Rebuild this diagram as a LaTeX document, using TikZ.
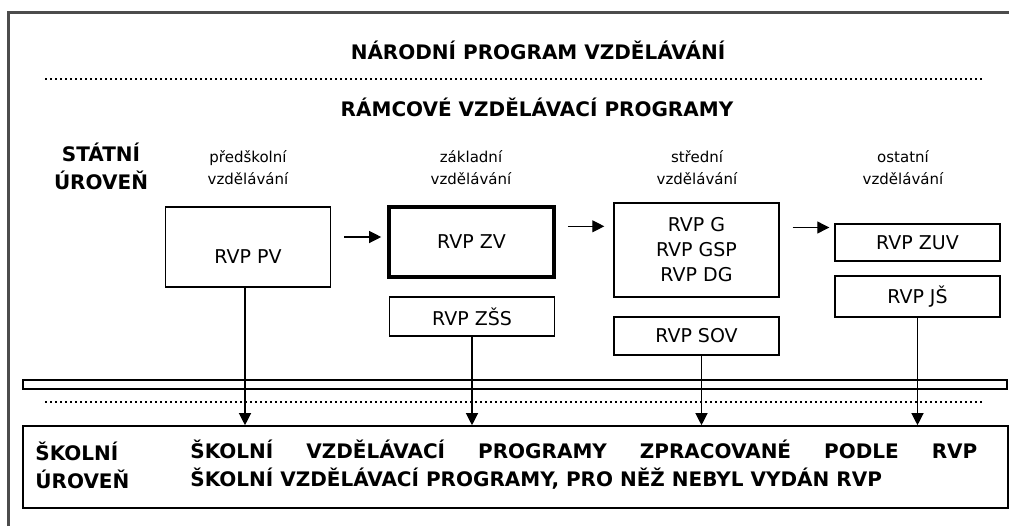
\documentclass[tikz,border=0pt]{standalone}
\usepackage{fontspec}
\setmainfont{DejaVu Sans}
\usetikzlibrary{arrows.meta,calc}

\begin{document}
\begin{tikzpicture}[x=0.5pt,y=-0.5pt,
  rvp/.style={draw,line width=0.7pt,minimum width=82.5pt,inner sep=1pt,align=center,font=\fontsize{9.5}{12.5}\selectfont},
  stage/.style={align=center,inner sep=0pt,font=\fontsize{7.5}{11}\selectfont},
  head/.style={anchor=base,inner sep=0pt,font=\bfseries\fontsize{10}{12}\selectfont},
  level/.style={align=left,inner sep=0pt,font=\bfseries\fontsize{10}{14}\selectfont},
  frame/.style={draw,line width=0.8pt,inner sep=0pt},
  arr/.style={-{Triangle[length=6pt,width=6pt]},line width=0.6pt},
  sep/.style={line width=1pt,dash pattern=on 1pt off 1.5pt}
]
\useasboundingbox (0,0) rectangle (1009,526);
\draw[line width=1.5pt,black!70] (8,526) -- (8,12) -- (1009,12);

\node[head] (nat) at (538,59) {NÁRODNÍ PROGRAM VZDĚLÁVÁNÍ};
\draw[sep] (45,79) -- (983,79);
\node[head] (ramc) at (537,116) {RÁMCOVÉ VZDĚLÁVACÍ PROGRAMY};

\node[level,align=center] (stat) at (101,166) {STÁTNÍ\\ÚROVEŇ};
\node[stage] (lpv) at (248,168) {předškolní\\vzdělávání};
\node[stage] (lzv) at (471,168) {základní\\vzdělávání};
\node[stage] (lsv) at (697,168) {střední\\vzdělávání};
\node[stage] (lov) at (903,168) {ostatní\\vzdělávání};

\node[rvp,minimum height=40pt,text height=16pt] (pv) at (248,247) {RVP PV};
\node[rvp,minimum height=35pt,line width=1.8pt] (zv) at (471.5,242) {RVP ZV};
\node[rvp,minimum height=19.5pt] (zss) at (472,316.5) {RVP ZŠS};
\node[rvp,minimum height=47pt] (g) at (696.5,250) {RVP G\\RVP GSP\\RVP DG};
\node[rvp,minimum height=19pt] (sov) at (696.5,336) {RVP SOV};
\node[rvp,minimum height=18.5pt] (zuv) at (917.5,242.5) {RVP ZUV};
\node[rvp,minimum height=20.5pt] (js) at (917.5,296.5) {RVP JŠ};

\draw[arr] ($(pv.east |- zv.west)+(6.5pt,2.5pt)$) -- ($(zv.west)+(-3pt,2.5pt)$);
\draw[arr] ($(zv.east |- g.north)+(6pt,-12pt)$) -- ($(g.north west)+(-4.5pt,-12pt)$);
\draw[arr] ($(g.east |- zuv.west)+(6.5pt,7.5pt)$) -- ($(zuv.west)+(-2.5pt,7.5pt)$);

\node[frame,minimum width=492pt,minimum height=4.5pt] (bar) at (515,384.5) {};
\draw[sep] (45,402) -- (982,402);
\node[frame,minimum width=492.5pt,minimum height=41pt] (school) at (515.5,467) {};
\node[level,anchor=west] (skol) at (35,465) {ŠKOLNÍ\\ÚROVEŇ};
\node[level,anchor=west] (svp) at (190,465) {\makebox[393.5pt][s]{ŠKOLNÍ VZDĚLÁVACÍ PROGRAMY ZPRACOVANÉ PODLE RVP}\\ŠKOLNÍ VZDĚLÁVACÍ PROGRAMY, PRO NĚŽ NEBYL VYDÁN RVP};

\draw[arr] ($(pv.south)+(-1.5pt,0)$) -- ($(pv.south |- school.north)+(-1.5pt,0)$);
\draw[arr] (zss) -- (zss |- school.north);
\draw[arr] ($(sov.south)+(2.5pt,0)$) -- ($(sov.south |- school.north)+(2.5pt,0)$);
\draw[arr] (js) -- (js |- school.north);
\end{tikzpicture}
\end{document}
